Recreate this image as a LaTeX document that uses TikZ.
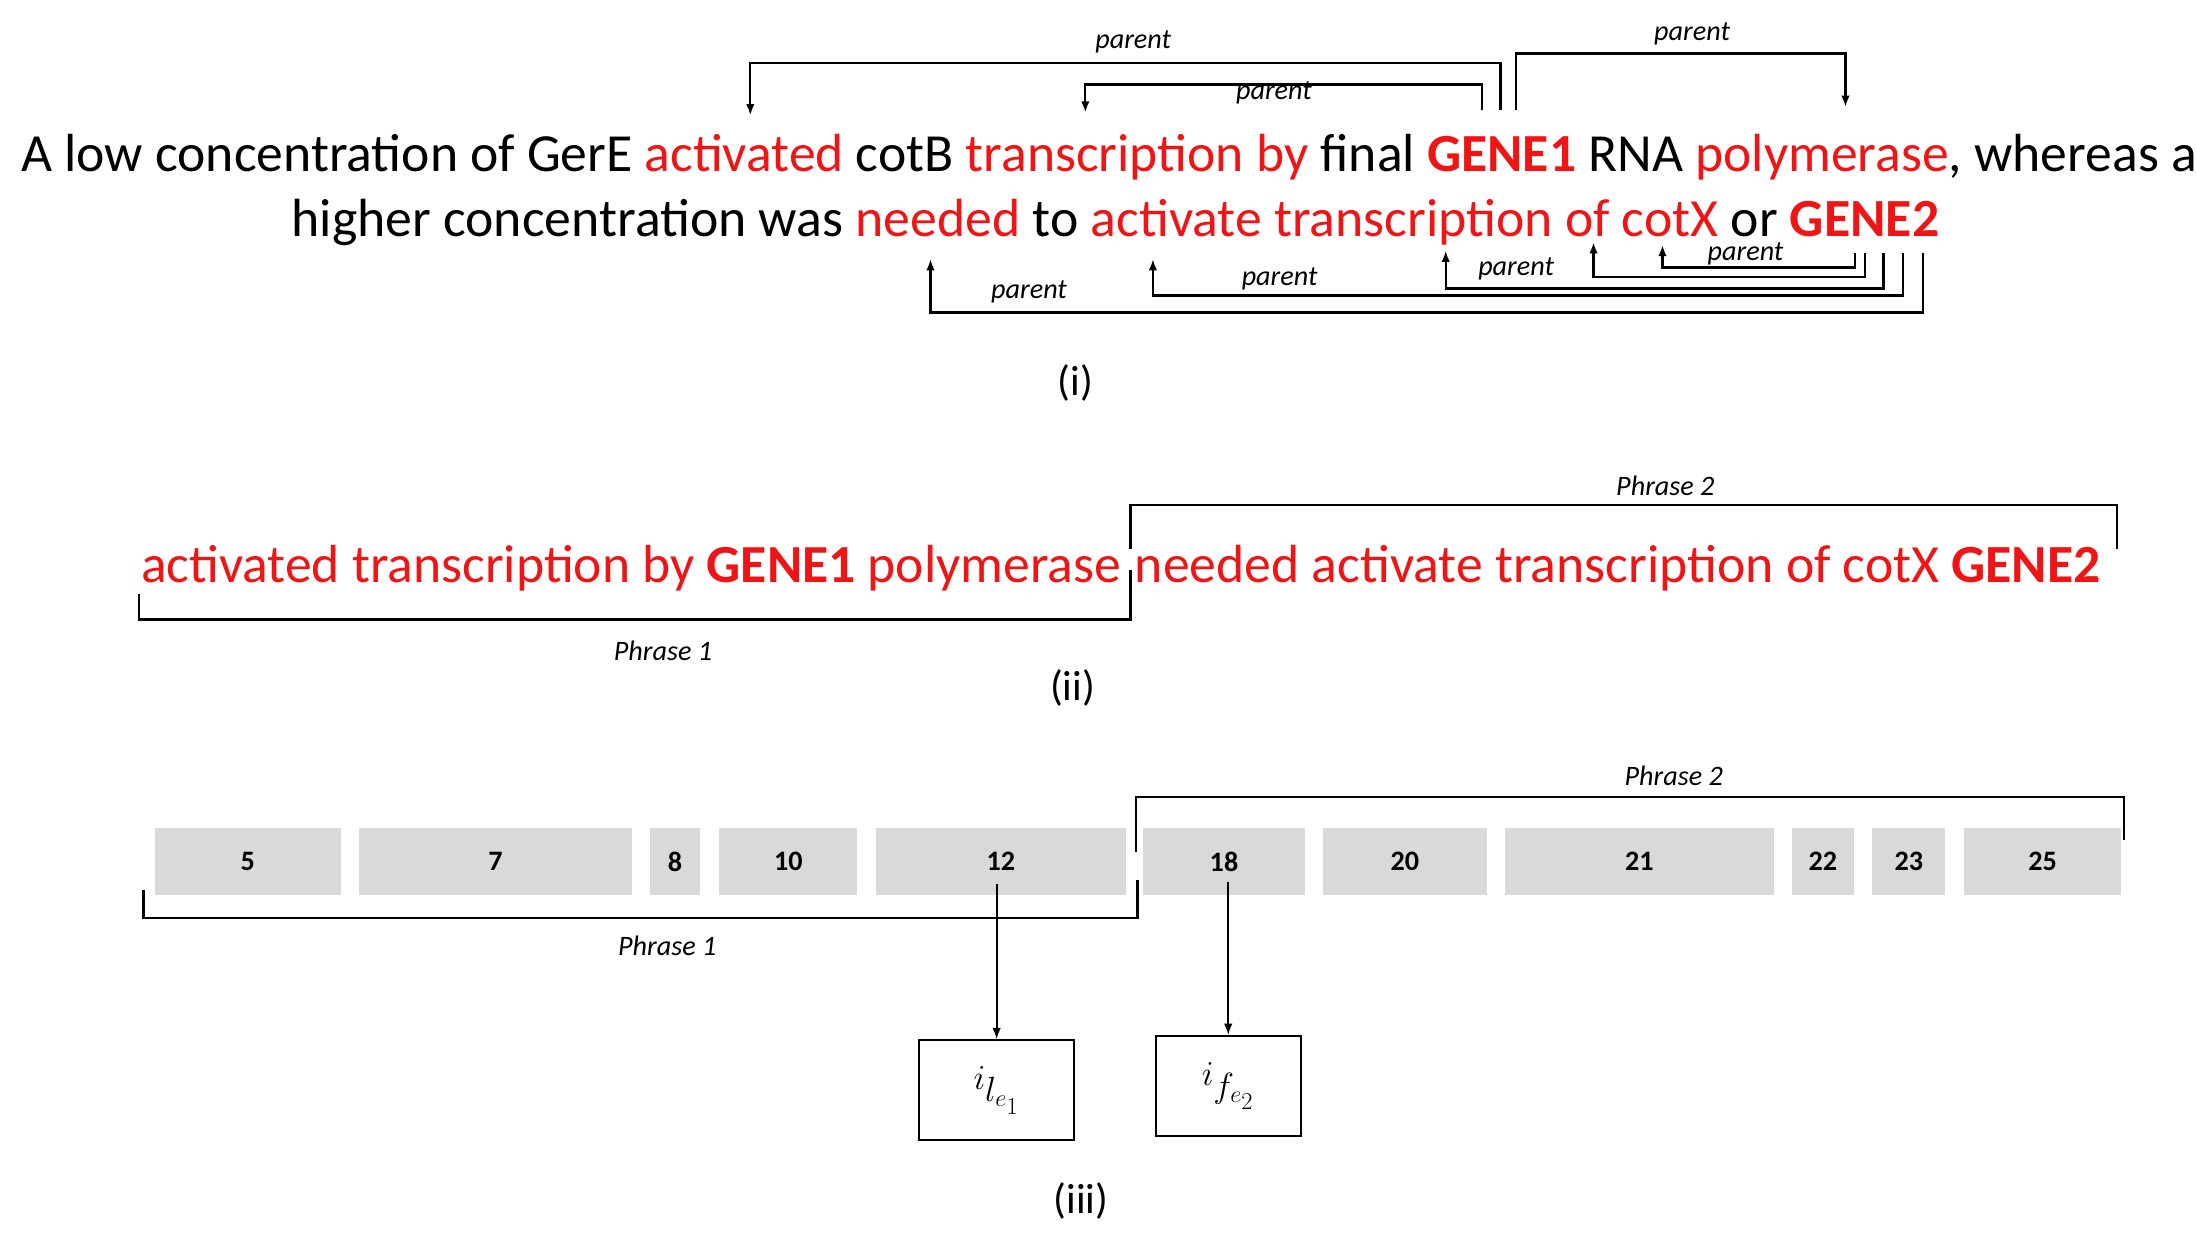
\documentclass[tikz,border=0pt]{standalone}
\usetikzlibrary{arrows.meta}
\usepackage{fontspec}
\setmainfont{Carlito}
\usepackage{graphicx}
\begin{document}
\definecolor{rd}{RGB}{240,20,20}
\definecolor{bx}{RGB}{217,217,217}
\newcommand{\R}[1]{\textcolor{rd}{#1}}
\newcommand{\RB}[1]{\textcolor{rd}{\textbf{#1}}}
\begin{tikzpicture}[x=1pt,y=-1pt,
  lbl/.style={font=\fontsize{20}{22}\selectfont\itshape,inner sep=0pt},
  captxt/.style={font=\fontsize{30}{32}\selectfont,inner sep=0pt},
  ln/.style={line width=1.6pt},
  arr/.style={ln,-{Latex[length=8pt,width=6pt]}},
  gb/.style={fill=bx,draw=none,minimum height=48pt,inner sep=0pt,font=\fontsize{20}{22}\selectfont\bfseries},
  mb/.style={draw,line width=1.6pt,inner sep=0pt}]
\useasboundingbox (0,0) rectangle (1560,878);
% (i)
\node[anchor=base west,inner sep=0pt] (l1) at (15,122) {\resizebox{1545pt}{!}{A low concentration of GerE \R{activated} cotB \R{transcription by} final \RB{GENE1} RNA \R{polymerase}, whereas a}};
\node[anchor=base west,inner sep=0pt] (l2) at (207,168) {\resizebox{1170pt}{!}{higher concentration was \R{needed} to \R{activate transcription of cotX} or \RB{GENE2}}};
\coordinate (a1) at (1066,78); \coordinate (t1) at (533,82);
\coordinate (a2) at (1053,78); \coordinate (t2) at (771,80);
\coordinate (a3) at (1077,78); \coordinate (t3) at (1311,76);
\draw[arr] (a1) |- (800,45) -| (t1);
\draw[arr] (a2) |- (900,60) -| (t2);
\draw[arr] (a3) |- (1200,38) -| (t3);
\node[lbl] at (805,30) {parent};
\node[lbl] at (905,66) {parent};
\node[lbl] at (1202,24) {parent};
\coordinate (b1) at (1366,180); \coordinate (u1) at (661,184);
\coordinate (b2) at (1352,180); \coordinate (u2) at (819,184);
\coordinate (b3) at (1338,180); \coordinate (u3) at (1027,178);
\coordinate (b4) at (1325,180); \coordinate (u4) at (1132,172);
\coordinate (b5) at (1318,180); \coordinate (u5) at (1181,174);
\draw[arr] (b1) |- (1000,222) -| (u1);
\draw[arr] (b2) |- (1000,210) -| (u2);
\draw[arr] (b3) |- (1200,205) -| (u3);
\draw[arr] (b4) |- (1200,197) -| (u4);
\draw[arr] (b5) |- (1250,190) -| (u5);
\node[lbl] at (731,207) {parent};
\node[lbl] at (909,198) {parent};
\node[lbl] at (1077,191) {parent};
\node[lbl] at (1240,180) {parent};
\node[captxt] at (764,272) {(i)};
% (ii)
\node[anchor=base west,inner sep=0pt] (p1) at (100,414) {\resizebox{696pt}{!}{\R{activated transcription by} \RB{GENE1} \R{polymerase}}};
\node[anchor=base west,inner sep=0pt] (p2) at (806,414) {\resizebox{686pt}{!}{\R{needed activate transcription of cotX} \RB{GENE2}}};
\draw[ln] (99,422) |- (803,440) -- (803,405);
\draw[ln] (803,390) |- (1504,359) -- (1504,390);
\node[lbl] at (471,462) {Phrase 1};
\node[lbl] at (1183,345) {Phrase 2};
\node[captxt] at (762,489) {(ii)};
% (iii)
\foreach \n/\a/\b in {n5/110/242,n7/255/449,n8/462/497,n10/511/609,n12/622/800,n18/812/927,n20/940/1056,n21/1069/1260,n22/1273/1317,n23/1330/1382,n25/1395/1507}{
  \node[gb,minimum width={\b-\a}] (\n) at ({(\a+\b)/2},612) {};}
\foreach \n/\t in {n5/5,n7/7,n8/8,n10/10,n12/12,n18/18,n20/20,n21/21,n22/22,n23/23,n25/25}{\node[font=\fontsize{20}{22}\selectfont\bfseries] at (\n) {\t};}
\draw[ln] (807,605) |- (1509,566) -- (1509,597);
\draw[ln] (102,632) |- (808,652) -- (808,625);
\node[lbl] at (1189,551) {Phrase 2};
\node[lbl] at (474,672) {Phrase 1};
\node[mb,minimum width=110pt,minimum height=71pt] (m1) at (708,774.5) {\fontsize{34}{36}\selectfont$i_{l_{e_1}}$};
\node[mb,minimum width=103pt,minimum height=71pt] (m2) at (872.5,771.5) {\fontsize{34}{36}\selectfont$i_{f_{e_2}}$};
\draw[line width=1.2pt,-{Latex[length=8pt,width=6pt]}] (n12.south -| m1.north) ++(0,-8) -- (m1.north);
\draw[line width=1.2pt,-{Latex[length=8pt,width=6pt]}] (n18.south -| m2.north) ++(0,-10) -- (m2.north);
\node[captxt] at (768,853) {(iii)};
\end{tikzpicture}
\end{document}
